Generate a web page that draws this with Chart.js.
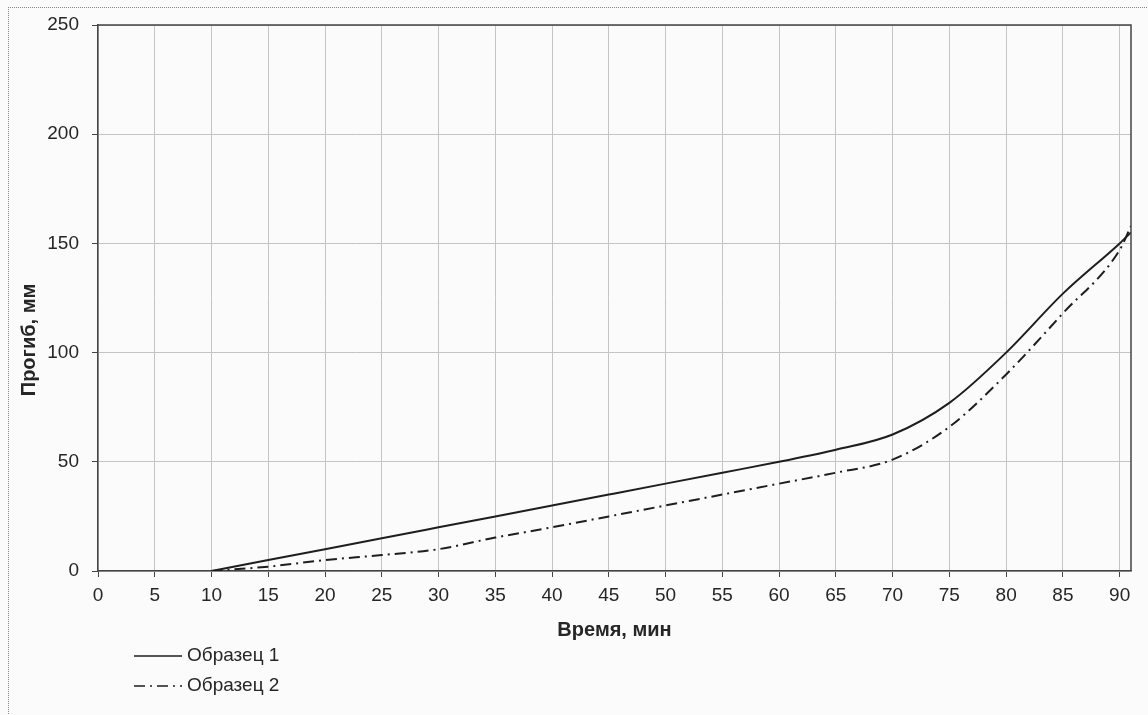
<!DOCTYPE html>
<html>
<head>
<meta charset="utf-8">
<script src="https://cdn.jsdelivr.net/npm/chart.js@4/dist/chart.umd.min.js"></script>
<style>
  html, body { margin: 0; padding: 0; background: #fbfbfc; }
  #wrap { position: relative; width: 1148px; height: 715px; }
  #frame { position: absolute; left: 8px; top: 7px; width: 1160px; height: 720px; border-left: 1px dotted #888; border-top: 1px dotted #888; pointer-events: none; }
</style>
</head>
<body>
<div id="wrap">
  <canvas id="chart" width="1148" height="715"></canvas>
  <div id="frame"></div>
</div>
<script>
// time, minutes
const times = [10, 15, 20, 25, 30, 35, 40, 45, 50, 55, 60, 65, 70, 75, 80, 85, 90, 91];
// deflection, mm
const sample1 = [0, 5, 10, 15, 20, 25, 30, 35, 40, 45, 50, 55.5, 62.5, 77, 100, 127, 150, 155];
const sample2 = [0, 2, 5, 7.3, 10, 15.3, 20, 25, 30, 35, 40, 45, 51, 66, 90, 118, 147, 158];
const seriesNames = ["Образец 1", "Образец 2"];
const xTitle = "Время, мин";
const yTitle = "Прогиб, мм";

const FONT = "'Liberation Sans', Arial, sans-serif";
const INK = "#262626";

const toPoints = (ys) => times.map((t, i) => ({ x: t, y: ys[i] }));

// frame on top/right of plot, y title and the stacked legend
const extras = {
  id: "extras",
  afterDraw(chart) {
    const { ctx, chartArea: a } = chart;
    ctx.save();
    ctx.strokeStyle = "#444";
    ctx.lineWidth = 1.5;
    ctx.beginPath();
    ctx.moveTo(a.left, a.top);
    ctx.lineTo(a.right, a.top);
    ctx.lineTo(a.right, a.bottom);
    ctx.stroke();

    // y axis title
    ctx.fillStyle = INK;
    ctx.font = "bold 20px " + FONT;
    ctx.textAlign = "center";
    ctx.textBaseline = "middle";
    ctx.translate(29, 340);
    ctx.rotate(-Math.PI / 2);
    ctx.fillText(yTitle, 0, 0);
    ctx.restore();

    // legend
    ctx.save();
    chart.data.datasets.forEach((ds, i) => {
      const y = 656 + i * 30;
      ctx.strokeStyle = ds.borderColor;
      ctx.lineWidth = 1.6;
      ctx.setLineDash(ds.borderDash || []);
      ctx.beginPath();
      ctx.moveTo(134, y);
      ctx.lineTo(182, y);
      ctx.stroke();
      ctx.setLineDash([]);
      ctx.fillStyle = INK;
      ctx.font = "19px " + FONT;
      ctx.textAlign = "left";
      ctx.textBaseline = "middle";
      ctx.fillText(ds.label, 187, y);
    });
    ctx.restore();
  }
};

new Chart(document.getElementById("chart"), {
  type: "line",
  data: {
    datasets: [
      {
        label: seriesNames[0],
        data: toPoints(sample1),
        borderColor: "#1e1e1e",
        borderWidth: 2,
        pointRadius: 0,
        cubicInterpolationMode: "monotone",
        fill: false
      },
      {
        label: seriesNames[1],
        data: toPoints(sample2),
        borderColor: "#1e1e1e",
        borderWidth: 2,
        borderDash: [11, 5, 2, 5],
        pointRadius: 0,
        cubicInterpolationMode: "monotone",
        fill: false
      }
    ]
  },
  options: {
    responsive: false,
    animation: false,
    layout: { padding: { left: 10, right: 17, top: 25, bottom: 69 } },
    plugins: { legend: { display: false }, tooltip: { enabled: false } },
    scales: {
      x: {
        type: "linear",
        min: 0,
        max: 91,
        afterFit: (s) => { s.height = 75; },
        ticks: {
          stepSize: 5,
          includeBounds: false,
          autoSkip: false,
          maxRotation: 0,
          color: INK,
          font: { family: FONT, size: 19 },
          padding: 7
        },
        grid: { color: "#c4c4c4", tickColor: "#444", tickLength: 6, lineWidth: 1 },
        border: { color: "#444", width: 1.5 },
        title: {
          display: true,
          text: xTitle,
          color: INK,
          font: { family: FONT, size: 20, weight: "bold" },
          padding: { top: 10 }
        }
      },
      y: {
        min: 0,
        max: 250,
        afterFit: (s) => { s.width = 88; },
        ticks: {
          stepSize: 50,
          color: INK,
          font: { family: FONT, size: 19 },
          padding: 13
        },
        grid: { color: "#c4c4c4", tickColor: "#444", tickLength: 6, lineWidth: 1 },
        border: { color: "#444", width: 1.5 }
      }
    }
  },
  plugins: [extras]
});
</script>
</body>
</html>
